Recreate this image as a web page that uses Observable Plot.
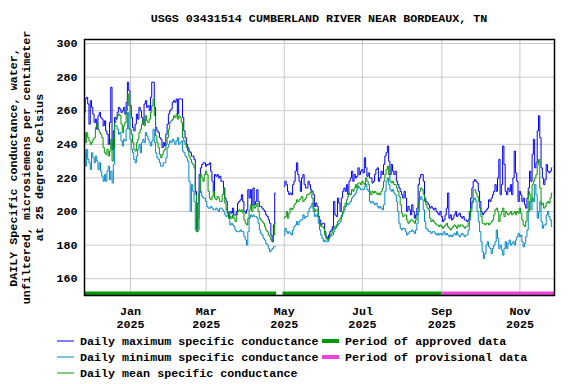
<!DOCTYPE html>
<html><head><meta charset="utf-8">
<script src="https://cdn.jsdelivr.net/npm/d3@7"></script>
<script src="https://cdn.jsdelivr.net/npm/@observablehq/plot@0.6"></script>
<style>
body{margin:0;background:#fff;}
#wrap{width:576px;height:384px;position:relative;font-family:"Liberation Mono",monospace;font-weight:bold;font-size:11.7px;color:#000;overflow:hidden;}
#title{height:30px;box-sizing:border-box;padding-top:13px;line-height:12px;margin-left:84px;width:470px;text-align:center;white-space:nowrap;}
#chart svg,#legend svg{display:block;overflow:visible;}
</style></head><body>
<div id="wrap"><div id="title"></div><div id="chart"></div><div id="legend"></div></div>
<script>
const titleText = "USGS 03431514 CUMBERLAND RIVER NEAR BORDEAUX, TN";
const yLabelLines = ["DAILY Specific conductance, water,", "unfiltered, microsiemens per centimeter", "at 25 degrees Celsius"];
const firstDay = "2024-11-26";
const xDomain = ["2024-11-26", "2025-11-28"];
const yDomain = [150, 302.4];
const yTicks = [160, 180, 200, 220, 240, 260, 280, 300];
const xTickDates = ["2025-01-01", "2025-03-01", "2025-05-01", "2025-07-01", "2025-09-01", "2025-11-01"];
const xTickLabels = ["Jan\n2025", "Mar\n2025", "May\n2025", "Jul\n2025", "Sep\n2025", "Nov\n2025"];

// daily values starting 2024-11-26 (null = no data)
const maxVals = [
259,267,268,264,252,266,262,258,253,255,
249,257,259,256,255,251,254,248,246,240,
253,274,237,248,256,255,259,262,261,259,
260,262,258,265,277,272,263,256,250,248,
252,258,255,262,260,256,252,264,266,262,
263,260,268,277,277,262,250,248,247,244,
243,238,241,239,246,252,258,260,261,265,
266,265,267,258,267,267,267,256,248,244,
240,238,236,235,233,233,231,212,190,205,
222,226,228,229,229,227,228,228,229,224,
218,212,222,221,222,220,221,218,218,214,
208,206,199,196,200,199,202,198,198,200,
205,206,207,210,206,200,199,201,213,208,
213,204,214,204,206,213,206,203,203,202,
201,200,198,197,195,193,186,182,192,211,
null,null,null,null,null,null,215,218,216,212,
210,211,210,216,218,224,229,222,218,212,
220,222,216,214,214,218,216,213,212,210,
203,205,203,197,195,192,193,193,188,185,
184,186,188,189,191,206,198,197,208,205,
200,208,212,214,212,216,210,218,220,224,
218,222,220,221,226,222,224,225,223,232,
226,221,223,220,220,217,218,222,225,226,
218,220,224,222,228,233,235,239,230,222,
228,224,222,224,218,216,214,212,210,208,
212,208,200,203,201,198,204,200,196,198,
202,216,220,222,222,218,208,206,205,204,
202,203,202,201,202,200,199,198,200,197,
194,195,198,202,211,196,198,195,196,198,
200,197,198,199,197,196,197,195,195,194,
195,200,208,214,218,219,218,217,212,206,
200,198,199,200,201,202,207,206,208,210,
212,216,212,220,231,210,216,239,228,212,
210,214,212,216,210,220,236,223,218,206,
212,210,206,208,204,202,208,214,224,218,
234,243,226,229,248,257,244,226,220,216,
219,228,224,223,224,226];
const meanVals = [
247,241,247,244,242,240,241,243,244,250,
252,249,247,246,244,238,235,234,237,233,
236,243,230,238,253,255,257,258,257,252,
247,251,253,260,270,263,249,246,241,237,
236,241,243,247,249,252,255,251,257,254,
253,255,259,263,267,257,245,241,238,234,
232,234,236,237,240,244,249,253,254,255,
257,256,258,255,257,256,253,244,242,240,
238,236,233,231,229,228,226,210,188,196,
212,222,220,218,222,224,222,212,208,207,
209,212,208,207,209,208,206,206,210,214,
205,201,200,196,197,196,198,196,194,198,
200,201,200,201,199,195,193,192,196,201,
204,200,204,202,203,205,200,196,195,194,
193,191,189,188,186,185,183,182,186,193,
null,null,null,null,null,null,196,197,200,196,
199,202,201,202,204,205,207,206,207,208,
209,206,207,208,210,210,211,212,208,202,
200,201,201,197,193,191,191,190,186,184,
183,184,186,187,189,191,190,192,194,195,
196,198,200,203,205,207,209,211,210,213,
212,214,216,214,217,217,216,218,217,216,
220,218,216,212,210,212,211,212,211,210,
211,210,212,214,218,222,225,227,222,218,
217,218,216,216,214,212,209,204,199,197,
198,198,195,193,194,195,195,194,193,195,
198,205,212,214,213,210,206,204,202,201,
196,194,195,194,193,192,192,191,192,191,
190,191,192,193,191,190,189,190,191,192,
191,190,192,191,192,192,191,190,191,191,
193,197,202,206,213,213,211,209,206,202,
197,193,193,192,193,193,192,193,194,195,
198,201,202,200,194,198,200,202,197,200,
199,198,199,200,198,199,200,198,200,199,
202,199,195,192,191,194,200,212,210,206,
216,218,220,222,228,231,214,204,205,202,
203,205,206,205,208,211];
const minVals = [
237,227,237,231,229,225,235,232,229,233,
230,225,229,224,221,218,222,218,224,227,
219,224,217,228,251,251,249,246,247,242,
239,243,242,249,259,249,243,237,235,231,
229,233,237,240,235,241,243,241,247,245,
243,241,239,242,249,241,235,232,231,229,
227,227,229,229,232,238,240,242,241,243,
242,240,242,244,240,241,242,236,235,233,
232,230,218,200,216,212,206,189,188,189,
211,212,209,208,208,206,203,202,202,203,
202,201,201,202,201,200,202,202,201,200,
198,197,198,196,192,193,192,191,189,188,
188,188,189,188,188,185,183,180,188,196,
198,197,198,197,197,196,193,189,187,186,
184,183,181,180,178,176,177,178,179,179,
null,null,null,null,null,null,186,190,188,187,
188,187,186,189,191,192,194,192,194,195,
195,198,196,197,197,200,202,203,205,200,
197,198,197,193,189,186,184,182,183,182,
182,184,185,186,186,188,190,191,192,193,
194,197,199,201,203,205,204,205,206,208,
209,210,211,213,215,214,213,213,213,215,
216,213,212,206,205,206,205,204,205,203,
202,203,202,201,204,212,218,220,216,213,
212,213,211,210,206,200,193,190,189,190,
190,188,186,187,188,188,189,188,187,189,
193,200,207,209,207,201,194,190,189,188,
188,187,188,188,187,186,187,186,187,186,
187,188,186,187,186,185,186,185,186,187,
186,188,186,185,186,187,186,185,186,186,
189,195,200,205,207,208,206,200,194,188,
182,176,172,175,180,182,179,178,175,178,
180,182,189,184,178,180,177,174,178,182,
178,181,183,180,181,182,180,183,185,187,
185,186,182,179,181,185,189,200,206,201,
208,206,216,210,196,200,206,194,190,192,
192,198,200,197,195,191];

const periodNames = ["Period of approved data", "Period of approved data", "Period of provisional data"];
const periodStarts = ["2024-11-26", "2025-04-30", "2025-09-01"];
const periodEnds = ["2025-04-25", "2025-09-01", "2025-11-28"];
const periodColors = ["#009900", "#009900", "#ee44dd"];

const seriesNames = ["Daily maximum specific conductance", "Daily minimum specific conductance", "Daily mean specific conductance"];
const seriesColors = ["#0000ff", "#0088cc", "#009900"];

document.getElementById("title").textContent = titleText;

const start = new Date(firstDay);
const rows = maxVals.map((v, i) => ({date: d3.utcDay.offset(start, i), max: v, mean: meanVals[i], min: minVals[i]}));
const periods = periodStarts.map((s, i) => ({start: new Date(s), end: new Date(periodEnds[i]), color: periodColors[i]}));
const xTicks = xTickDates.map(d => new Date(d));
const labelMap = new Map(xTicks.map((d, i) => [+d, xTickLabels[i]]));
const FONT = '"Liberation Mono", monospace';

const chart = Plot.plot({
  width: 576, height: 306,
  marginTop: 9, marginBottom: 41, marginLeft: 84, marginRight: 22,
  style: {fontFamily: FONT, fontSize: "11.7px", fontWeight: "bold", color: "#000", background: "white", overflow: "visible"},
  x: {type: "utc", domain: xDomain.map(d => new Date(d))},
  y: {domain: yDomain},
  color: {type: "identity"},
  marks: [
    Plot.gridY(yTicks, {stroke: "#c8c8c8", strokeOpacity: 1, strokeWidth: 1}),
    Plot.gridX(xTicks, {stroke: "#c8c8c8", strokeOpacity: 1, strokeWidth: 1}),
    Plot.line(rows, {x: "date", y: "max", stroke: seriesColors[0], strokeWidth: 1, curve: "step"}),
    Plot.line(rows, {x: "date", y: "min", stroke: seriesColors[1], strokeWidth: 1, curve: "step"}),
    Plot.line(rows, {x: "date", y: "mean", stroke: seriesColors[2], strokeWidth: 1, curve: "step"}),
    Plot.ruleY(periods, {x1: "start", x2: "end", y: yDomain[0], stroke: "color", strokeWidth: 4, dy: -2}),
    Plot.axisY(yTicks, {tickSize: 0, tickPadding: 7, label: null}),
    Plot.axisX(xTicks, {tickSize: 0, tickPadding: 10, lineHeight: 1.11, tickFormat: d => labelMap.get(+d), label: null}),
    Plot.text([yLabelLines.join("\n")], {text: d => d, frameAnchor: "left", rotate: -90, dx: -58.5, lineHeight: 1.1, textAnchor: "middle", lineAnchor: "middle"}),
    Plot.frame({stroke: "black", strokeWidth: 1.5})
  ]
});
document.getElementById("chart").appendChild(chart);

// legend below the chart
const lsvg = d3.select("#legend").append("svg").attr("width", 576).attr("height", 48)
  .style("font-family", FONT).style("font-size", "11.7px").style("font-weight", "bold");
const rowY = [5, 21, 37];
seriesNames.forEach((name, i) => {
  lsvg.append("line").attr("x1", 57).attr("x2", 74).attr("y1", rowY[i]).attr("y2", rowY[i])
    .attr("stroke", seriesColors[i]).attr("stroke-width", 1);
  lsvg.append("text").attr("x", 80).attr("y", rowY[i]).attr("dy", "0.35em").attr("fill", "#000").text(name);
});
const legendPeriods = [[periodNames[0], periodColors[0]], [periodNames[2], periodColors[2]]];
legendPeriods.forEach(([name, col], i) => {
  lsvg.append("line").attr("x1", 322).attr("x2", 339).attr("y1", rowY[i]).attr("y2", rowY[i])
    .attr("stroke", col).attr("stroke-width", 4);
  lsvg.append("text").attr("x", 345).attr("y", rowY[i]).attr("dy", "0.35em").attr("fill", "#000").text(name);
});
</script>
</body></html>
